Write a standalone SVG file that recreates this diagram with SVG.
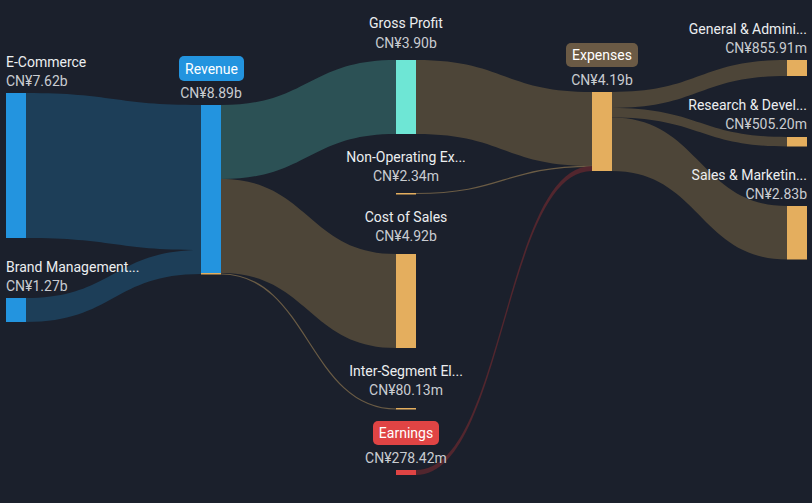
<svg xmlns="http://www.w3.org/2000/svg" width="812" height="503" viewBox="0 0 812 503">
<style>
.name{font-family:Roboto,"Liberation Sans",sans-serif;font-size:14px;fill:#eceef0}
.val{font-family:Roboto,"Liberation Sans",sans-serif;font-size:14px;fill:#c9ccd1}
.mid{text-anchor:middle}
.end{text-anchor:end}
.pill{font-family:Roboto,"Liberation Sans",sans-serif;font-size:14px;fill:#ffffff;text-anchor:middle}
.lb{fill:#1d3e58}
.lt{fill:#2c5155}
.lo{fill:#4d4538}
.thin{fill:none;stroke:#6b5c45;stroke-width:1.2}
</style>
<rect x="0" y="0" width="812" height="503" fill="#1b202c"/>
<g id="connectors">
<path class="lb" d="M26,93 C113.5,93 113.5,105 201,105 L201,250 C113.5,250 113.5,238 26,238 Z"/>
<path class="lb" d="M26,298 C113.5,298 113.5,250 201,250 L201,274 C113.5,274 113.5,322 26,322 Z"/>
<path class="lt" d="M221,105 C308.5,105 308.5,60 396,60 L396,134 C308.5,134 308.5,179 221,179 Z"/>
<path class="lo" d="M221,179 C308.5,179 308.5,254 396,254 L396,348 C308.5,348 308.5,273 221,273 Z"/>
<path class="thin" d="M221,274 C308.5,274 308.5,409 396,409"/>
<path class="lo" d="M416,60 C504,60 504,92 592,92 L592,166 C504,166 504,134 416,134 Z"/>
<path class="thin" d="M416,193.5 C504,193.5 504,166.3 592,166.3"/>
<path fill="#52262e" d="M416,470 C504,470 504,166 592,166 L592,171 C504,171 504,475 416,475 Z"/>
<path class="lo" d="M612,92 C699.5,92 699.5,60 787,60 L787,76 C699.5,76 699.5,108 612,108 Z"/>
<path class="lo" d="M612,108 C699.5,108 699.5,137 787,137 L787,146.5 C699.5,146.5 699.5,117.5 612,117.5 Z"/>
<path class="lo" d="M612,117.5 C699.5,117.5 699.5,206 787,206 L787,259.5 C699.5,259.5 699.5,171 612,171 Z"/>
</g>
<g id="ecommerce">
<rect x="6" y="93" width="20" height="145" fill="#2394df"/>
<text class="name" x="6" y="67">E-Commerce</text>
<text class="val" x="6" y="86">CN¥7.62b</text>
</g>
<g id="brand">
<rect x="6" y="298" width="20" height="24" fill="#2394df"/>
<text class="name" x="6" y="272">Brand Management...</text>
<text class="val" x="6" y="291">CN¥1.27b</text>
</g>
<g id="revenue">
<rect x="201" y="105" width="20" height="168" fill="#2394df"/>
<rect x="201" y="273" width="20" height="1.5" fill="#e4ae5e"/>
<rect x="179" y="56" width="65" height="25" rx="5" fill="#2394df"/>
<text class="pill" x="211.5" y="73.5">Revenue</text>
<text class="val mid" x="211" y="98">CN¥8.89b</text>
</g>
<g id="grossprofit">
<rect x="396" y="60" width="20" height="74" fill="#6ee6d5"/>
<text class="name mid" x="406" y="28">Gross Profit</text>
<text class="val mid" x="406" y="48">CN¥3.90b</text>
</g>
<g id="nonop">
<rect x="396" y="193" width="20" height="1.5" fill="#e4ae5e"/>
<text class="name mid" x="406" y="162">Non-Operating Ex...</text>
<text class="val mid" x="406" y="181">CN¥2.34m</text>
</g>
<g id="costofsales">
<rect x="396" y="254" width="20" height="94" fill="#e4ae5e"/>
<text class="name mid" x="406" y="222">Cost of Sales</text>
<text class="val mid" x="406" y="241">CN¥4.92b</text>
</g>
<g id="intersegment">
<rect x="396" y="408" width="20" height="1.5" fill="#e4ae5e"/>
<text class="name mid" x="406" y="376">Inter-Segment El...</text>
<text class="val mid" x="406" y="395">CN¥80.13m</text>
</g>
<g id="earnings">
<rect x="396" y="470" width="20" height="5" fill="#e04444"/>
<rect x="373" y="421" width="66" height="24" rx="5" fill="#e04444"/>
<text class="pill" x="406" y="438">Earnings</text>
<text class="val mid" x="406" y="463">CN¥278.42m</text>
</g>
<g id="expenses">
<rect x="592" y="92" width="20" height="79" fill="#e4ae5e"/>
<rect x="566" y="43" width="72" height="24" rx="5" fill="#6b5a45"/>
<text class="pill" x="602" y="60">Expenses</text>
<text class="val mid" x="602" y="85">CN¥4.19b</text>
</g>
<g id="ga">
<rect x="787" y="60" width="20" height="16" fill="#e4ae5e"/>
<text class="name end" x="807" y="34">General &amp; Admini...</text>
<text class="val end" x="807" y="53">CN¥855.91m</text>
</g>
<g id="rd">
<rect x="787" y="137" width="20" height="9.5" fill="#e4ae5e"/>
<text class="name end" x="807" y="110">Research &amp; Devel...</text>
<text class="val end" x="807" y="129">CN¥505.20m</text>
</g>
<g id="sm">
<rect x="787" y="206" width="20" height="53.5" fill="#e4ae5e"/>
<text class="name end" x="807" y="180">Sales &amp; Marketin...</text>
<text class="val end" x="807" y="199">CN¥2.83b</text>
</g>
</svg>
